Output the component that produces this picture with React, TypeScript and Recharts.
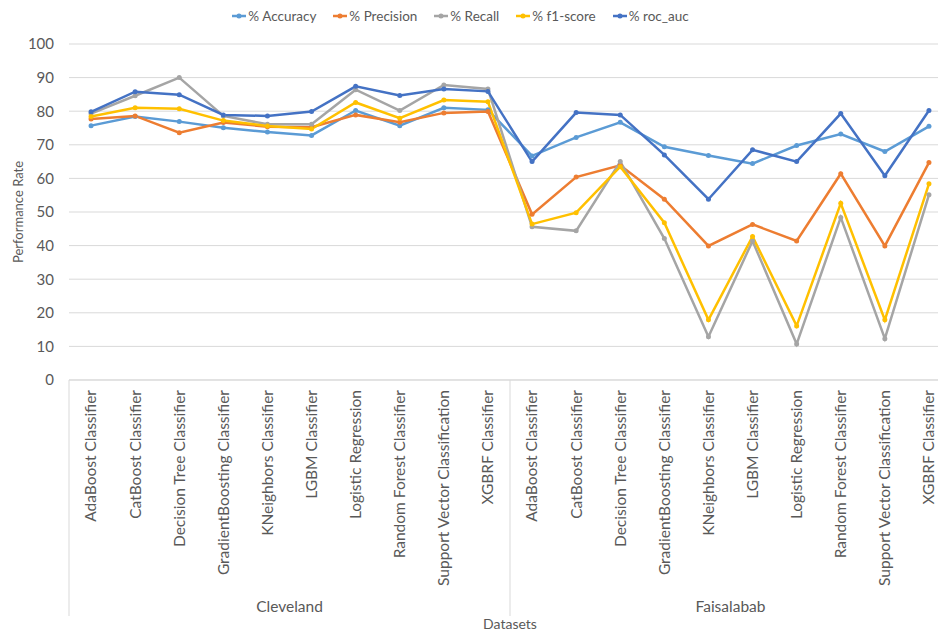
import React from 'react';
import { LineChart, Line, XAxis, YAxis, CartesianGrid, Legend } from 'recharts';

const groups = ['Cleveland', 'Faisalabab'];
const models = [
  'AdaBoost Classifier',
  'CatBoost Classifier',
  'Decision Tree Classifier',
  'GradientBoosting Classifier',
  'KNeighbors Classifier',
  'LGBM Classifier',
  'Logistic Regression',
  'Random Forest Classifier',
  'Support Vector Classification',
  'XGBRF Classifier',
];

const accuracy = [75.7, 78.4, 76.9, 75.1, 73.8, 72.8, 80.2, 75.7, 81.0, 80.4, 66.7, 72.2, 76.7, 69.4, 66.8, 64.4, 69.8, 73.2, 68.0, 75.5];
const precision = [77.7, 78.6, 73.6, 76.6, 75.4, 75.2, 78.9, 76.7, 79.5, 79.9, 49.3, 60.4, 63.9, 53.8, 39.9, 46.3, 41.4, 61.4, 39.9, 64.7];
const recall = [79.3, 84.6, 90.0, 78.6, 76.1, 76.1, 86.4, 80.2, 87.8, 86.6, 45.6, 44.4, 65.0, 42.1, 12.9, 41.4, 10.7, 48.4, 12.3, 55.1];
const f1score = [78.4, 81.0, 80.7, 77.2, 75.6, 74.7, 82.6, 77.9, 83.3, 82.8, 46.4, 49.8, 63.5, 46.8, 17.9, 42.7, 16.1, 52.6, 17.9, 58.4];
const rocAuc = [79.8, 85.8, 84.9, 78.9, 78.6, 79.9, 87.4, 84.7, 86.6, 85.9, 65.0, 79.6, 78.9, 67.0, 53.8, 68.5, 65.0, 79.3, 60.8, 80.2];
const yTicks = [0, 10, 20, 30, 40, 50, 60, 70, 80, 90, 100];

const data = groups.flatMap((g, gi) =>
  models.map((m, mi) => {
    const i = gi * models.length + mi;
    return {
      id: `${g}|${m}`,
      group: g,
      model: m,
      accuracy: accuracy[i],
      precision: precision[i],
      recall: recall[i],
      f1: f1score[i],
      roc: rocAuc[i],
    };
  })
);

const series = [
  { key: 'accuracy', name: '% Accuracy', color: '#5B9BD5' },
  { key: 'precision', name: '% Precision', color: '#ED7D31' },
  { key: 'recall', name: '% Recall', color: '#A5A5A5' },
  { key: 'f1', name: '% f1-score', color: '#FFC000' },
  { key: 'roc', name: '% roc_auc', color: '#4472C4' },
];

const FONT = 'Lato, "Open Sans", sans-serif';
const TEXT = '#595959';
const GRID = '#D9D9D9';

const ModelTick = (props: any) => {
  const { x, y, payload, index } = props;
  const half = typeof payload?.offset === 'number' && payload.offset > 0 ? payload.offset : 22;
  const label = String(payload.value).split('|')[1] || String(payload.value);
  return (
    <g>
      <text
        transform={`translate(${x},${y}) rotate(-90)`}
        textAnchor="end"
        dy="0.35em"
        fill={TEXT}
        fontFamily={FONT}
        fontSize={15.5}
      >
        {label}
      </text>
      {(index === 0 || index === models.length) && (
        <line x1={x - half} x2={x - half} y1={y - 10} y2={y + 226} stroke={GRID} strokeWidth={1} />
      )}
      {index === models.length * groups.length - 1 && (
        <line x1={x + half} x2={x + half} y1={y - 10} y2={y + 226} stroke={GRID} strokeWidth={1} />
      )}
    </g>
  );
};

const GroupTick = (props: any) => {
  const { x, y, payload } = props;
  return (
    <text x={x} y={y} dy={12} textAnchor="middle" fill={TEXT} fontFamily={FONT} fontSize={15.5}>
      {payload.value}
    </text>
  );
};

const DatasetsLabel = (props: any) => {
  const vb = props.viewBox || {};
  return (
    <text x={vb.x + vb.width / 2} y={vb.y + vb.height - 3} textAnchor="middle" fill={TEXT} fontFamily={FONT} fontSize={14}>
      Datasets
    </text>
  );
};

const YLabel = (props: any) => {
  const vb = props.viewBox || {};
  const cy = vb.y + vb.height / 2;
  return (
    <text
      transform={`translate(18,${cy}) rotate(-90)`}
      textAnchor="middle"
      dy="0.35em"
      fill={TEXT}
      fontFamily={FONT}
      fontSize={13}
    >
      Performance Rate
    </text>
  );
};

const LegendContent = (props: any) => {
  const payload = props.payload || [];
  return (
    <div
      style={{
        display: 'flex',
        justifyContent: 'center',
        gap: 16,
        fontFamily: FONT,
        fontSize: 13.5,
        color: TEXT,
      }}
    >
      {payload.map((p: any) => (
        <span key={p.value} style={{ display: 'flex', alignItems: 'center' }}>
          <svg width={16} height={10} style={{ marginRight: 1 }}>
            <line x1={1} x2={15} y1={5} y2={5} stroke={p.color} strokeWidth={2.5} />
            <circle cx={8} cy={5} r={2.5} fill={p.color} />
          </svg>
          <span>{p.value}</span>
        </span>
      ))}
    </div>
  );
};

export default function App() {
  return (
    <div
      style={{
        position: 'absolute',
        left: 0,
        top: 0,
        width: 938,
        height: 632,
        overflow: 'hidden',
        background: '#ffffff',
      }}
    >
      <LineChart width={960} height={632} data={data} margin={{ top: 44, right: 9, bottom: 0, left: 0 }}>
        <CartesianGrid vertical={false} stroke={GRID} xAxisId="a" />
        <XAxis
          xAxisId="a"
          dataKey="id"
          scale="band"
          interval={0}
          height={220}
          tickLine={false}
          tickSize={0}
          tickMargin={10}
          axisLine={{ stroke: GRID }}
          tick={<ModelTick />}
        />
        <XAxis
          xAxisId="z"
          dataKey="group"
          scale="band"
          allowDuplicatedCategory={false}
          ticks={groups}
          interval={0}
          height={32}
          tickLine={false}
          tickSize={0}
          tickMargin={0}
          axisLine={false}
          tick={<GroupTick />}
          label={<DatasetsLabel />}
        />
        <YAxis
          domain={[0, 100]}
          ticks={yTicks}
          interval={0}
          width={69}
          axisLine={false}
          tickLine={false}
          tickSize={0}
          tickMargin={15}
          tick={{ fill: TEXT, fontFamily: FONT, fontSize: 15 }}
          label={<YLabel />}
        />
        <Legend
          verticalAlign="middle"
          align="center"
          layout="horizontal"
          content={<LegendContent />}
          wrapperStyle={{ top: 8, left: 0, width: 920 }}
        />
        {series.map((s) => (
          <Line
            key={s.key}
            xAxisId="a"
            type="linear"
            dataKey={s.key}
            name={s.name}
            stroke={s.color}
            strokeWidth={2.5}
            dot={{ r: 2.5, fill: s.color, stroke: s.color, strokeWidth: 0 }}
            activeDot={false}
            isAnimationActive={false}
          />
        ))}
      </LineChart>
    </div>
  );
}
